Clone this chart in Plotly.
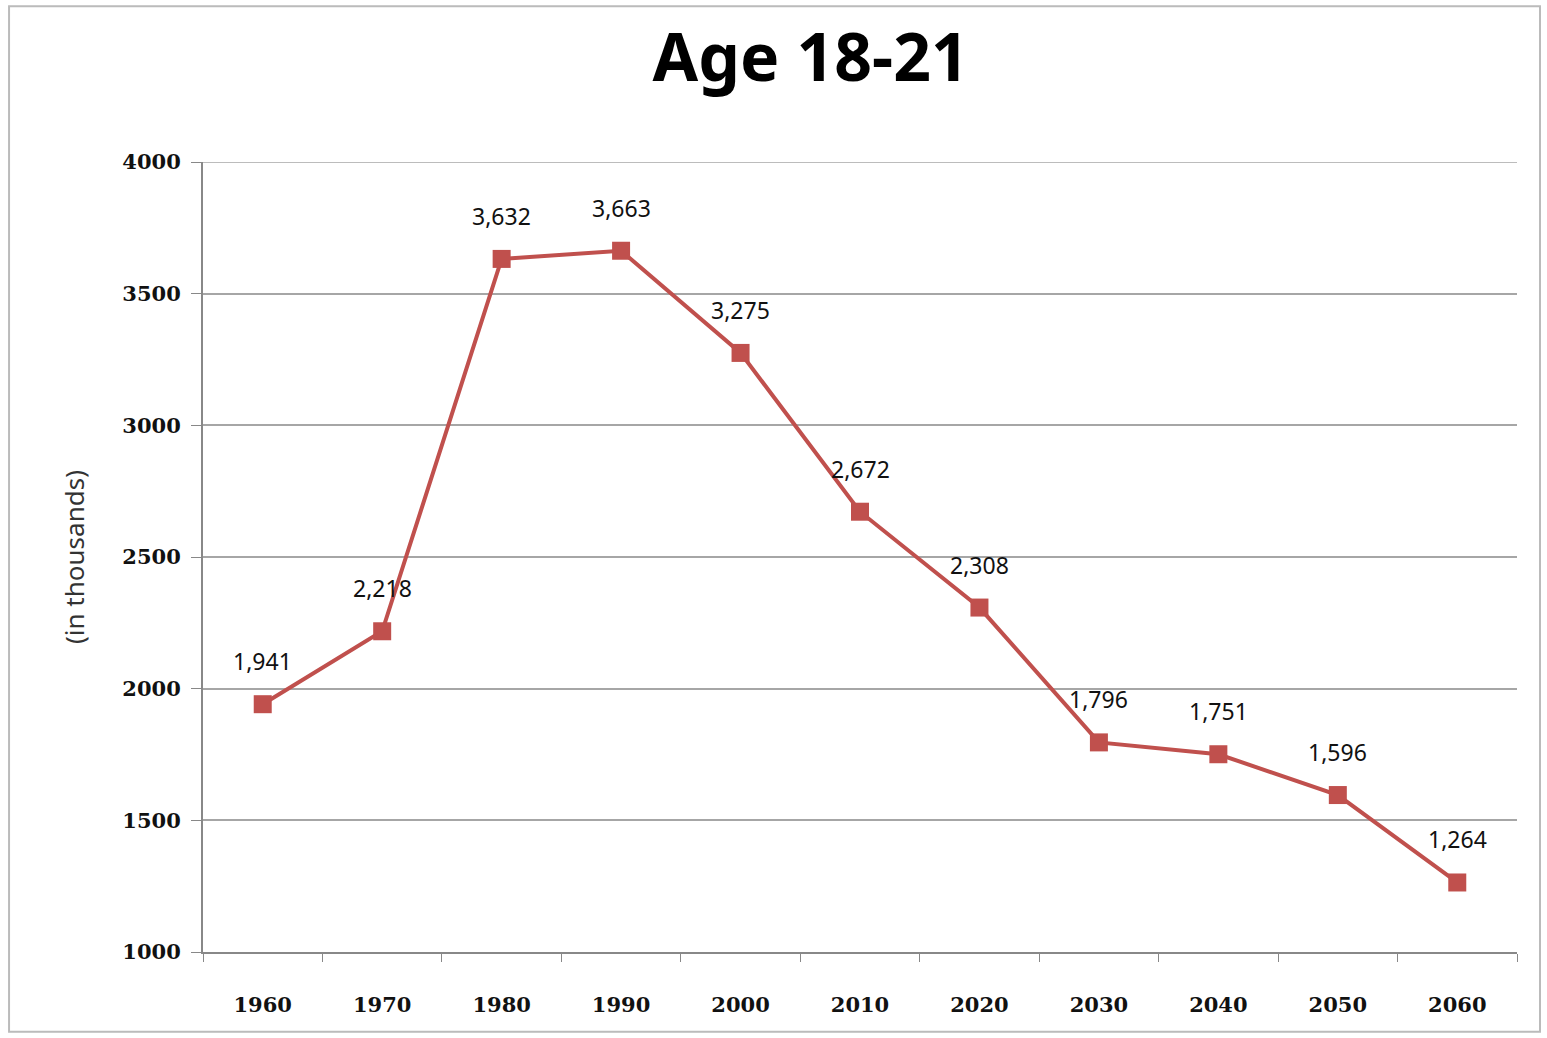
import plotly.graph_objects as go

years = ["1960", "1970", "1980", "1990", "2000", "2010", "2020", "2030", "2040", "2050", "2060"]
values = [1941, 2218, 3632, 3663, 3275, 2672, 2308, 1796, 1751, 1596, 1264]
labels = [f"{v:,}" for v in values]
y_ticks = [1000, 1500, 2000, 2500, 3000, 3500, 4000]

RED = "#C0504D"
GRID = "#A6A6A6"

fig = go.Figure()
fig.add_trace(go.Scatter(
    x=years, y=values, mode="lines+markers",
    line=dict(color=RED, width=4),
    marker=dict(symbol="square", size=18, color=RED),
    hoverinfo="skip", showlegend=False,
))

for i, (y, t) in enumerate(zip(values, labels)):
    fig.add_annotation(x=i, y=y, text=t, showarrow=False, yshift=43,
                       font=dict(family="Noto Sans", size=23, color="#111111"))

# top gridline (plotly hides the grid line at the range end)
fig.add_shape(type="line", xref="paper", yref="y", x0=0, x1=1,
              y0=y_ticks[-1], y1=y_ticks[-1],
              line=dict(color=GRID, width=1.5), layer="below")

fig.add_shape(type="rect", xref="paper", yref="paper",
              x0=-0.1476, x1=1.0175, y0=-0.101, y1=1.197,
              line=dict(color="#BBBBBB", width=2), layer="below")

fig.update_layout(
    width=1547, height=1038,
    margin=dict(l=203, r=30, t=162, b=86),
    paper_bgcolor="white", plot_bgcolor="white",
    title=dict(text="<b>Age 18-21</b>", x=0.524, xanchor="center",
               y=1 - 58 / 1038, yanchor="middle", yref="container",
               font=dict(family="Noto Sans", size=66, color="#000000")),
    xaxis=dict(
        type="category", range=[-0.5, 10.5],
        tickson="boundaries", ticks="outside", ticklen=8, tickcolor="#888888",
        showline=True, linecolor="#888888", linewidth=2, showgrid=False,
        tickfont=dict(family="DejaVu Serif", size=21, color="#111111", weight="bold"),
        ticklabelstandoff=33,
    ),
    yaxis=dict(
        range=[1000, 4000], tickvals=y_ticks, ticks="outside", ticklen=10,
        tickcolor="#888888", showline=True, linecolor="#888888", linewidth=2,
        showgrid=True, gridcolor=GRID, gridwidth=1.5,
        tickfont=dict(family="DejaVu Serif", size=21, color="#111111", weight="bold"),
        ticklabelstandoff=6,
        title=dict(text="(in thousands)", standoff=30,
                   font=dict(family="Noto Sans", size=26, color="#333333")),
        zeroline=False,
    ),
)

fig.write_html("out.html")
